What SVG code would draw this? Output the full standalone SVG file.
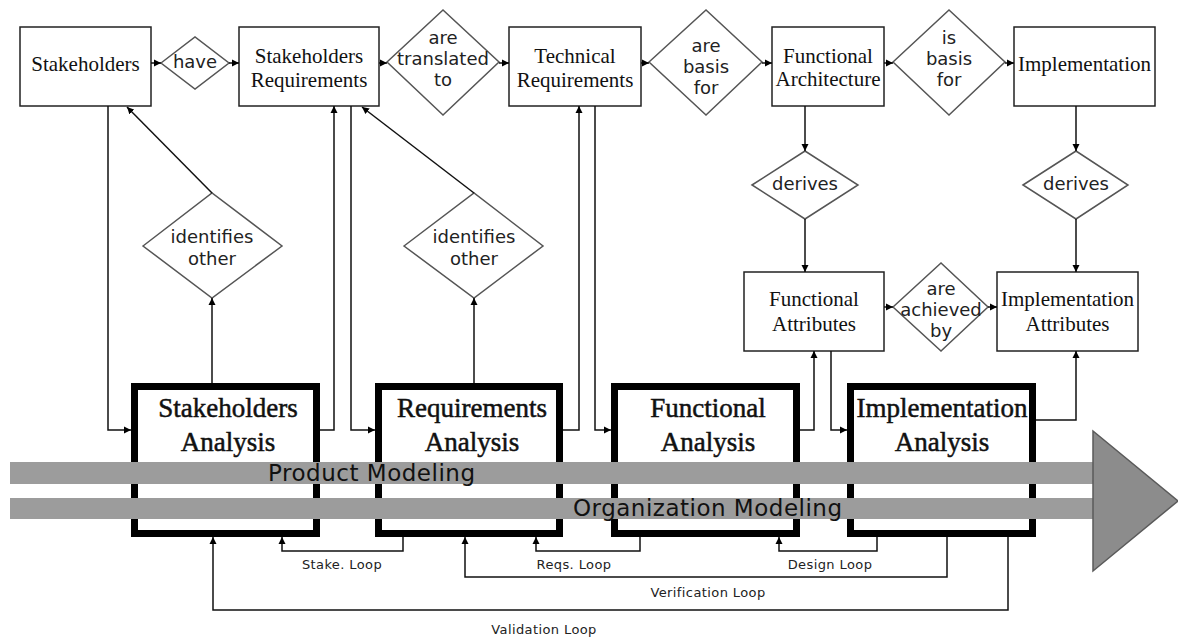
<svg xmlns="http://www.w3.org/2000/svg" width="1178" height="637" viewBox="0 0 1178 637">
<style>
.box{fill:#fff;stroke:#222;stroke-width:1.5}
.dia{fill:#fff;stroke:#555;stroke-width:1.5}
.abox{fill:#fff;stroke:#000;stroke-width:7}
.st{font-family:"Liberation Serif",serif;font-size:21px;fill:#111;text-anchor:middle}
.at{font-family:"Liberation Serif",serif;font-size:27px;fill:#111;text-anchor:middle;stroke:#111;stroke-width:0.5}
.dt{font-family:"DejaVu Sans",sans-serif;font-size:18px;fill:#222;text-anchor:middle}
.lt{font-family:"DejaVu Sans",sans-serif;font-size:13px;fill:#222;text-anchor:middle;letter-spacing:0.4px}
.bt{font-family:"DejaVu Sans",sans-serif;font-size:23px;fill:#111}
.band{fill:#9c9c9c}
.c{fill:none;stroke:#111;stroke-width:1.5}
</style>
<defs>
<marker id="ah" markerUnits="userSpaceOnUse" markerWidth="8" markerHeight="8" refX="7" refY="4" orient="auto">
<path d="M0,0.5 L7,4 L0,7.5 Z" fill="#000"/>
</marker>
</defs>

<g id="stakeholders"><rect class="box" x="20" y="27" width="131" height="79"/><text class="st" x="85.5" y="71">Stakeholders</text></g>
<g id="have"><polygon class="dia" points="161,63 195,37 229,63 195,89"/><text class="dt" x="195" y="68">have</text></g>
<g id="stakeholders-requirements"><rect class="box" x="239" y="27" width="140" height="79"/><text class="st" x="309" y="63">Stakeholders</text><text class="st" x="309" y="87">Requirements</text></g>
<g id="are-translated-to"><polygon class="dia" points="387,62 443,10 499,62 443,115"/><text class="dt" x="443" y="44">are</text><text class="dt" x="443" y="65">translated</text><text class="dt" x="443" y="86">to</text></g>
<g id="technical-requirements"><rect class="box" x="509" y="27" width="132" height="79"/><text class="st" x="575" y="63">Technical</text><text class="st" x="575" y="87">Requirements</text></g>
<g id="are-basis-for"><polygon class="dia" points="649,62 706,10 762,62 706,115"/><text class="dt" x="706" y="52">are</text><text class="dt" x="706" y="73">basis</text><text class="dt" x="706" y="94">for</text></g>
<g id="functional-architecture"><rect class="box" x="772" y="27" width="112" height="79"/><text class="st" x="828" y="63">Functional</text><text class="st" x="828" y="86">Architecture</text></g>
<g id="is-basis-for"><polygon class="dia" points="893,62 949,10 1005,62 949,115"/><text class="dt" x="949" y="44">is</text><text class="dt" x="949" y="65">basis</text><text class="dt" x="949" y="86">for</text></g>
<g id="implementation"><rect class="box" x="1014" y="27" width="141" height="79"/><text class="st" x="1084.5" y="71">Implementation</text></g>

<g id="derives-1"><polygon class="dia" points="752,185 805,151 858,185 805,219"/><text class="dt" x="805" y="190">derives</text></g>
<g id="derives-2"><polygon class="dia" points="1023,185 1076,151 1128,185 1076,219"/><text class="dt" x="1076" y="190">derives</text></g>

<g id="identifies-other-1"><polygon class="dia" points="143,246 212,193 282,246 212,298"/><text class="dt" x="212" y="243">identifies</text><text class="dt" x="212" y="265">other</text></g>
<g id="identifies-other-2"><polygon class="dia" points="404,246 474,193 543,246 474,298"/><text class="dt" x="474" y="243">identifies</text><text class="dt" x="474" y="265">other</text></g>

<g id="functional-attributes"><rect class="box" x="744" y="272" width="140" height="79"/><text class="st" x="814" y="306">Functional</text><text class="st" x="814" y="331">Attributes</text></g>
<g id="are-achieved-by"><polygon class="dia" points="893,307 941,263 988,307 941,351"/><text class="dt" x="941" y="295">are</text><text class="dt" x="941" y="316">achieved</text><text class="dt" x="941" y="337">by</text></g>
<g id="implementation-attributes"><rect class="box" x="997" y="272" width="141" height="79"/><text class="st" x="1067.5" y="306">Implementation</text><text class="st" x="1067.5" y="331">Attributes</text></g>

<g id="connectors">
<path class="c" marker-end="url(#ah)" d="M151,63 H161"/>
<path class="c" marker-end="url(#ah)" d="M229,63 H239"/>
<path class="c" marker-end="url(#ah)" d="M379,63 H387"/>
<path class="c" marker-end="url(#ah)" d="M499,63 H509"/>
<path class="c" marker-end="url(#ah)" d="M641,63 H649"/>
<path class="c" marker-end="url(#ah)" d="M762,63 H772"/>
<path class="c" marker-end="url(#ah)" d="M884,63 H893"/>
<path class="c" marker-end="url(#ah)" d="M1005,63 H1014"/>
<path class="c" marker-end="url(#ah)" d="M805,106 V151"/>
<path class="c" marker-end="url(#ah)" d="M1076,106 V151"/>
<path class="c" marker-end="url(#ah)" d="M805,219 V272"/>
<path class="c" marker-end="url(#ah)" d="M1076,219 V272"/>
<path class="c" marker-end="url(#ah)" d="M884,307 H893"/>
<path class="c" marker-end="url(#ah)" d="M988,307 H997"/>
<path class="c" marker-end="url(#ah)" d="M108,106 V430 H131"/>
<path class="c" marker-end="url(#ah)" d="M212,193 L127,107"/>
<path class="c" marker-end="url(#ah)" d="M474,193 L362,107"/>
<path class="c" marker-end="url(#ah)" d="M212,383 V298"/>
<path class="c" marker-end="url(#ah)" d="M474,383 V298"/>
<path class="c" marker-end="url(#ah)" d="M320,430 H334 V106"/>
<path class="c" marker-end="url(#ah)" d="M351,106 V430 H375"/>
<path class="c" marker-end="url(#ah)" d="M563,430 H579 V106"/>
<path class="c" marker-end="url(#ah)" d="M595,106 V430 H611"/>
<path class="c" marker-end="url(#ah)" d="M800,430 H814 V351"/>
<path class="c" marker-end="url(#ah)" d="M831,351 V430 H847"/>
<path class="c" marker-end="url(#ah)" d="M1036,420 H1076 V351"/>
<path class="c" marker-end="url(#ah)" d="M403,537 V551 H282 V537"/>
<path class="c" marker-end="url(#ah)" d="M640,537 V551 H536 V537"/>
<path class="c" marker-end="url(#ah)" d="M877,537 V551 H779 V537"/>
<path class="c" marker-end="url(#ah)" d="M947,537 V577 H465 V537"/>
<path class="c" marker-end="url(#ah)" d="M1008,537 V610 H213 V537"/>
</g>

<g id="stakeholders-analysis"><rect class="abox" x="134.5" y="386.5" width="182" height="147"/><text class="at" x="228" y="417">Stakeholders</text><text class="at" x="228" y="451">Analysis</text></g>
<g id="requirements-analysis"><rect class="abox" x="378.5" y="386.5" width="181" height="147"/><text class="at" x="472" y="417">Requirements</text><text class="at" x="472" y="451">Analysis</text></g>
<g id="functional-analysis"><rect class="abox" x="614.5" y="386.5" width="182" height="147"/><text class="at" x="708" y="417">Functional</text><text class="at" x="708" y="451">Analysis</text></g>
<g id="implementation-analysis"><rect class="abox" x="850.5" y="386.5" width="182" height="147"/><text class="at" x="942" y="417">Implementation</text><text class="at" x="942" y="451">Analysis</text></g>

<g id="modeling-arrow">
<rect class="band" x="10" y="462" width="1085" height="22"/>
<rect class="band" x="10" y="498" width="1085" height="21"/>
<polygon points="1093,431 1178,501 1093,571" fill="#8c8c8c" stroke="#5a5a5a" stroke-width="1.5"/>
<text class="bt" x="268" y="481" textLength="207" lengthAdjust="spacing">Product Modeling</text>
<text class="bt" x="573" y="516" textLength="269" lengthAdjust="spacing">Organization Modeling</text>
</g>

<g id="loop-labels">
<text class="lt" x="342" y="569">Stake. Loop</text>
<text class="lt" x="574" y="569">Reqs. Loop</text>
<text class="lt" x="830" y="569">Design Loop</text>
<text class="lt" x="708" y="597">Verification Loop</text>
<text class="lt" x="544" y="634">Validation Loop</text>
</g>
</svg>
